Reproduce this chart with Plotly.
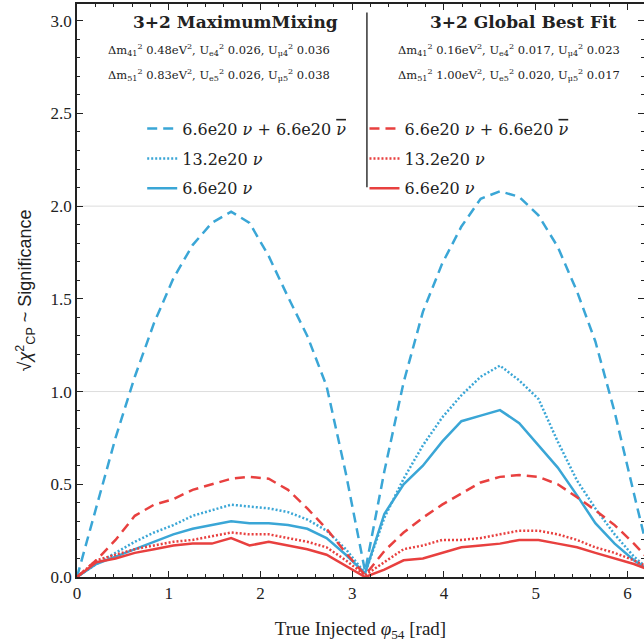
import plotly.graph_objects as go

phi = [0.00, 0.21, 0.42, 0.63, 0.84, 1.05, 1.26, 1.47, 1.68, 1.88, 2.09, 2.30, 2.51, 2.72, 2.93, 3.14,
       3.35, 3.56, 3.77, 3.98, 4.19, 4.40, 4.61, 4.82, 5.03, 5.24, 5.45, 5.65, 5.86, 6.07, 6.28]

# 3+2 Maximum Mixing (blue)
max_nu_nubar = [0.00, 0.38, 0.75, 1.08, 1.37, 1.61, 1.79, 1.91, 1.97, 1.91, 1.73, 1.51, 1.30, 1.03, 0.56, 0.03,
                0.57, 1.05, 1.43, 1.69, 1.89, 2.04, 2.08, 2.05, 1.95, 1.78, 1.54, 1.27, 0.89, 0.45, 0.02]
max_13p2 = [0.00, 0.07, 0.13, 0.19, 0.24, 0.28, 0.33, 0.36, 0.39, 0.38, 0.37, 0.35, 0.31, 0.25, 0.15, 0.02,
            0.32, 0.53, 0.71, 0.86, 0.98, 1.08, 1.14, 1.06, 0.96, 0.73, 0.52, 0.37, 0.23, 0.11, 0.02]
max_6p6 = [0.00, 0.07, 0.11, 0.15, 0.19, 0.23, 0.26, 0.28, 0.30, 0.29, 0.29, 0.28, 0.26, 0.21, 0.12, 0.02,
           0.34, 0.50, 0.60, 0.73, 0.84, 0.87, 0.90, 0.83, 0.71, 0.59, 0.44, 0.29, 0.18, 0.09, 0.02]

# 3+2 Global Best Fit (red)
gbf_nu_nubar = [0.00, 0.09, 0.20, 0.33, 0.39, 0.42, 0.47, 0.50, 0.53, 0.54, 0.53, 0.47, 0.37, 0.26, 0.13, 0.01,
                0.14, 0.24, 0.32, 0.39, 0.45, 0.51, 0.54, 0.55, 0.54, 0.50, 0.43, 0.36, 0.28, 0.18, 0.07]
gbf_13p2 = [0.00, 0.09, 0.12, 0.15, 0.17, 0.19, 0.20, 0.22, 0.24, 0.23, 0.23, 0.21, 0.19, 0.16, 0.09, 0.01,
            0.08, 0.15, 0.17, 0.20, 0.20, 0.21, 0.23, 0.25, 0.25, 0.23, 0.20, 0.16, 0.13, 0.09, 0.04]
gbf_6p6 = [0.00, 0.08, 0.10, 0.13, 0.15, 0.17, 0.18, 0.18, 0.21, 0.17, 0.19, 0.17, 0.15, 0.12, 0.06, 0.00,
           0.04, 0.09, 0.10, 0.13, 0.16, 0.17, 0.18, 0.20, 0.20, 0.18, 0.16, 0.13, 0.10, 0.07, 0.03]

labels = ["6.6e20 <i>ν</i> + 6.6e20 <span style=\"text-decoration:overline\"><i>ν</i></span>",
          "13.2e20 <i>ν</i>", "6.6e20 <i>ν</i>"]
dashes = ["10px,6px", "2px,2px", "solid"]

BLUE = "#3aa6d6"
RED = "#e8403f"
SERIF = "Liberation Serif"
WIDE = "DejaVu Serif"

fig = go.Figure()
for i, (ys, lab, d) in enumerate(zip([max_nu_nubar, max_13p2, max_6p6], labels, dashes)):
    fig.add_trace(go.Scatter(x=phi, y=ys, mode="lines", name=lab,
                             line=dict(color=BLUE, width=2.5, dash=d),
                             legend="legend", legendgroup="b%d" % i))
for i, (ys, lab, d) in enumerate(zip([gbf_nu_nubar, gbf_13p2, gbf_6p6], labels, dashes)):
    fig.add_trace(go.Scatter(x=phi, y=ys, mode="lines", name=lab,
                             line=dict(color=RED, width=2.5, dash=d),
                             legend="legend2", legendgroup="r%d" % i))

for g in [1.0, 2.0]:
    fig.add_hline(y=g, line=dict(color="#dddddd", width=1), layer="below")

fig.add_shape(type="line", xref="x", yref="paper", x0=3.16, x1=3.16, y0=0.68, y1=0.985,
              line=dict(color="#333333", width=1.5))

leg_common = dict(font=dict(family=WIDE, size=16, color="#222222"), bgcolor="rgba(0,0,0,0)",
                  tracegroupgap=6, itemwidth=30, xanchor="left", yanchor="top")

fig.update_layout(
    width=644, height=644,
    margin=dict(l=77, r=0, t=4, b=67, autoexpand=False),
    plot_bgcolor="white", paper_bgcolor="white",
    font=dict(family=SERIF, size=15, color="#222222"),
    legend=dict(x=0.115, y=0.812, **leg_common),
    legend2=dict(x=0.507, y=0.812, **leg_common),
    xaxis=dict(range=[0, 6.18], tickvals=[0, 1, 2, 3, 4, 5, 6], ticks="inside", ticklen=6,
               tickwidth=1.2, tickcolor="#222", showline=True, linecolor="#222", linewidth=1.5,
               mirror="ticks", showgrid=False, zeroline=False, automargin=False,
               minor=dict(dtick=0.2, ticks="inside", ticklen=3, tickcolor="#222"),
               tickfont=dict(family=SERIF, size=17),
               title=dict(text="True Injected <i>φ</i><sub>54</sub> [rad]", font=dict(family=SERIF, size=19),
                          standoff=20)),
    yaxis=dict(range=[0, 3.09], tickvals=[0, 0.5, 1.0, 1.5, 2.0, 2.5, 3.0], tickformat=".1f",
               ticks="inside", ticklen=6, tickwidth=1.2, tickcolor="#222", showline=True,
               linecolor="#222", linewidth=1.5, mirror="ticks", showgrid=False, zeroline=False,
               automargin=False,
               minor=dict(dtick=0.1, ticks="inside", ticklen=3, tickcolor="#222"),
               tickfont=dict(family=SERIF, size=17),
               title=dict(text="√<i>χ</i><sup>2</sup><sub>CP</sub> ~ Significance",
                          font=dict(family="Liberation Sans", size=18), standoff=14)),
)

ann = [
    dict(x=0.28, y=0.99, text="<b>3+2 MaximumMixing</b>", size=17),
    dict(x=0.25, y=0.937, text="Δm<sub>41</sub><sup>2</sup> 0.48eV<sup>2</sup>, U<sub>e4</sub><sup>2</sup> 0.026, U<sub>μ4</sub><sup>2</sup> 0.036", size=11.5),
    dict(x=0.25, y=0.893, text="Δm<sub>51</sub><sup>2</sup> 0.83eV<sup>2</sup>, U<sub>e5</sub><sup>2</sup> 0.026, U<sub>μ5</sub><sup>2</sup> 0.038", size=11.5),
    dict(x=0.787, y=0.99, text="<b>3+2 Global Best Fit</b>", size=17),
    dict(x=0.762, y=0.937, text="Δm<sub>41</sub><sup>2</sup> 0.16eV<sup>2</sup>, U<sub>e4</sub><sup>2</sup> 0.017, U<sub>μ4</sub><sup>2</sup> 0.023", size=11.5),
    dict(x=0.762, y=0.893, text="Δm<sub>51</sub><sup>2</sup> 1.00eV<sup>2</sup>, U<sub>e5</sub><sup>2</sup> 0.020, U<sub>μ5</sub><sup>2</sup> 0.017", size=11.5),
]
for a in ann:
    fig.add_annotation(x=a["x"], y=a["y"], xref="paper", yref="paper", text=a["text"], showarrow=False,
                       xanchor="center", yanchor="top",
                       font=dict(family=WIDE, size=a["size"], color="#222222"))

fig.write_html("out.html", config={"displayModeBar": False},
               post_script="document.body.style.margin='0px';")
